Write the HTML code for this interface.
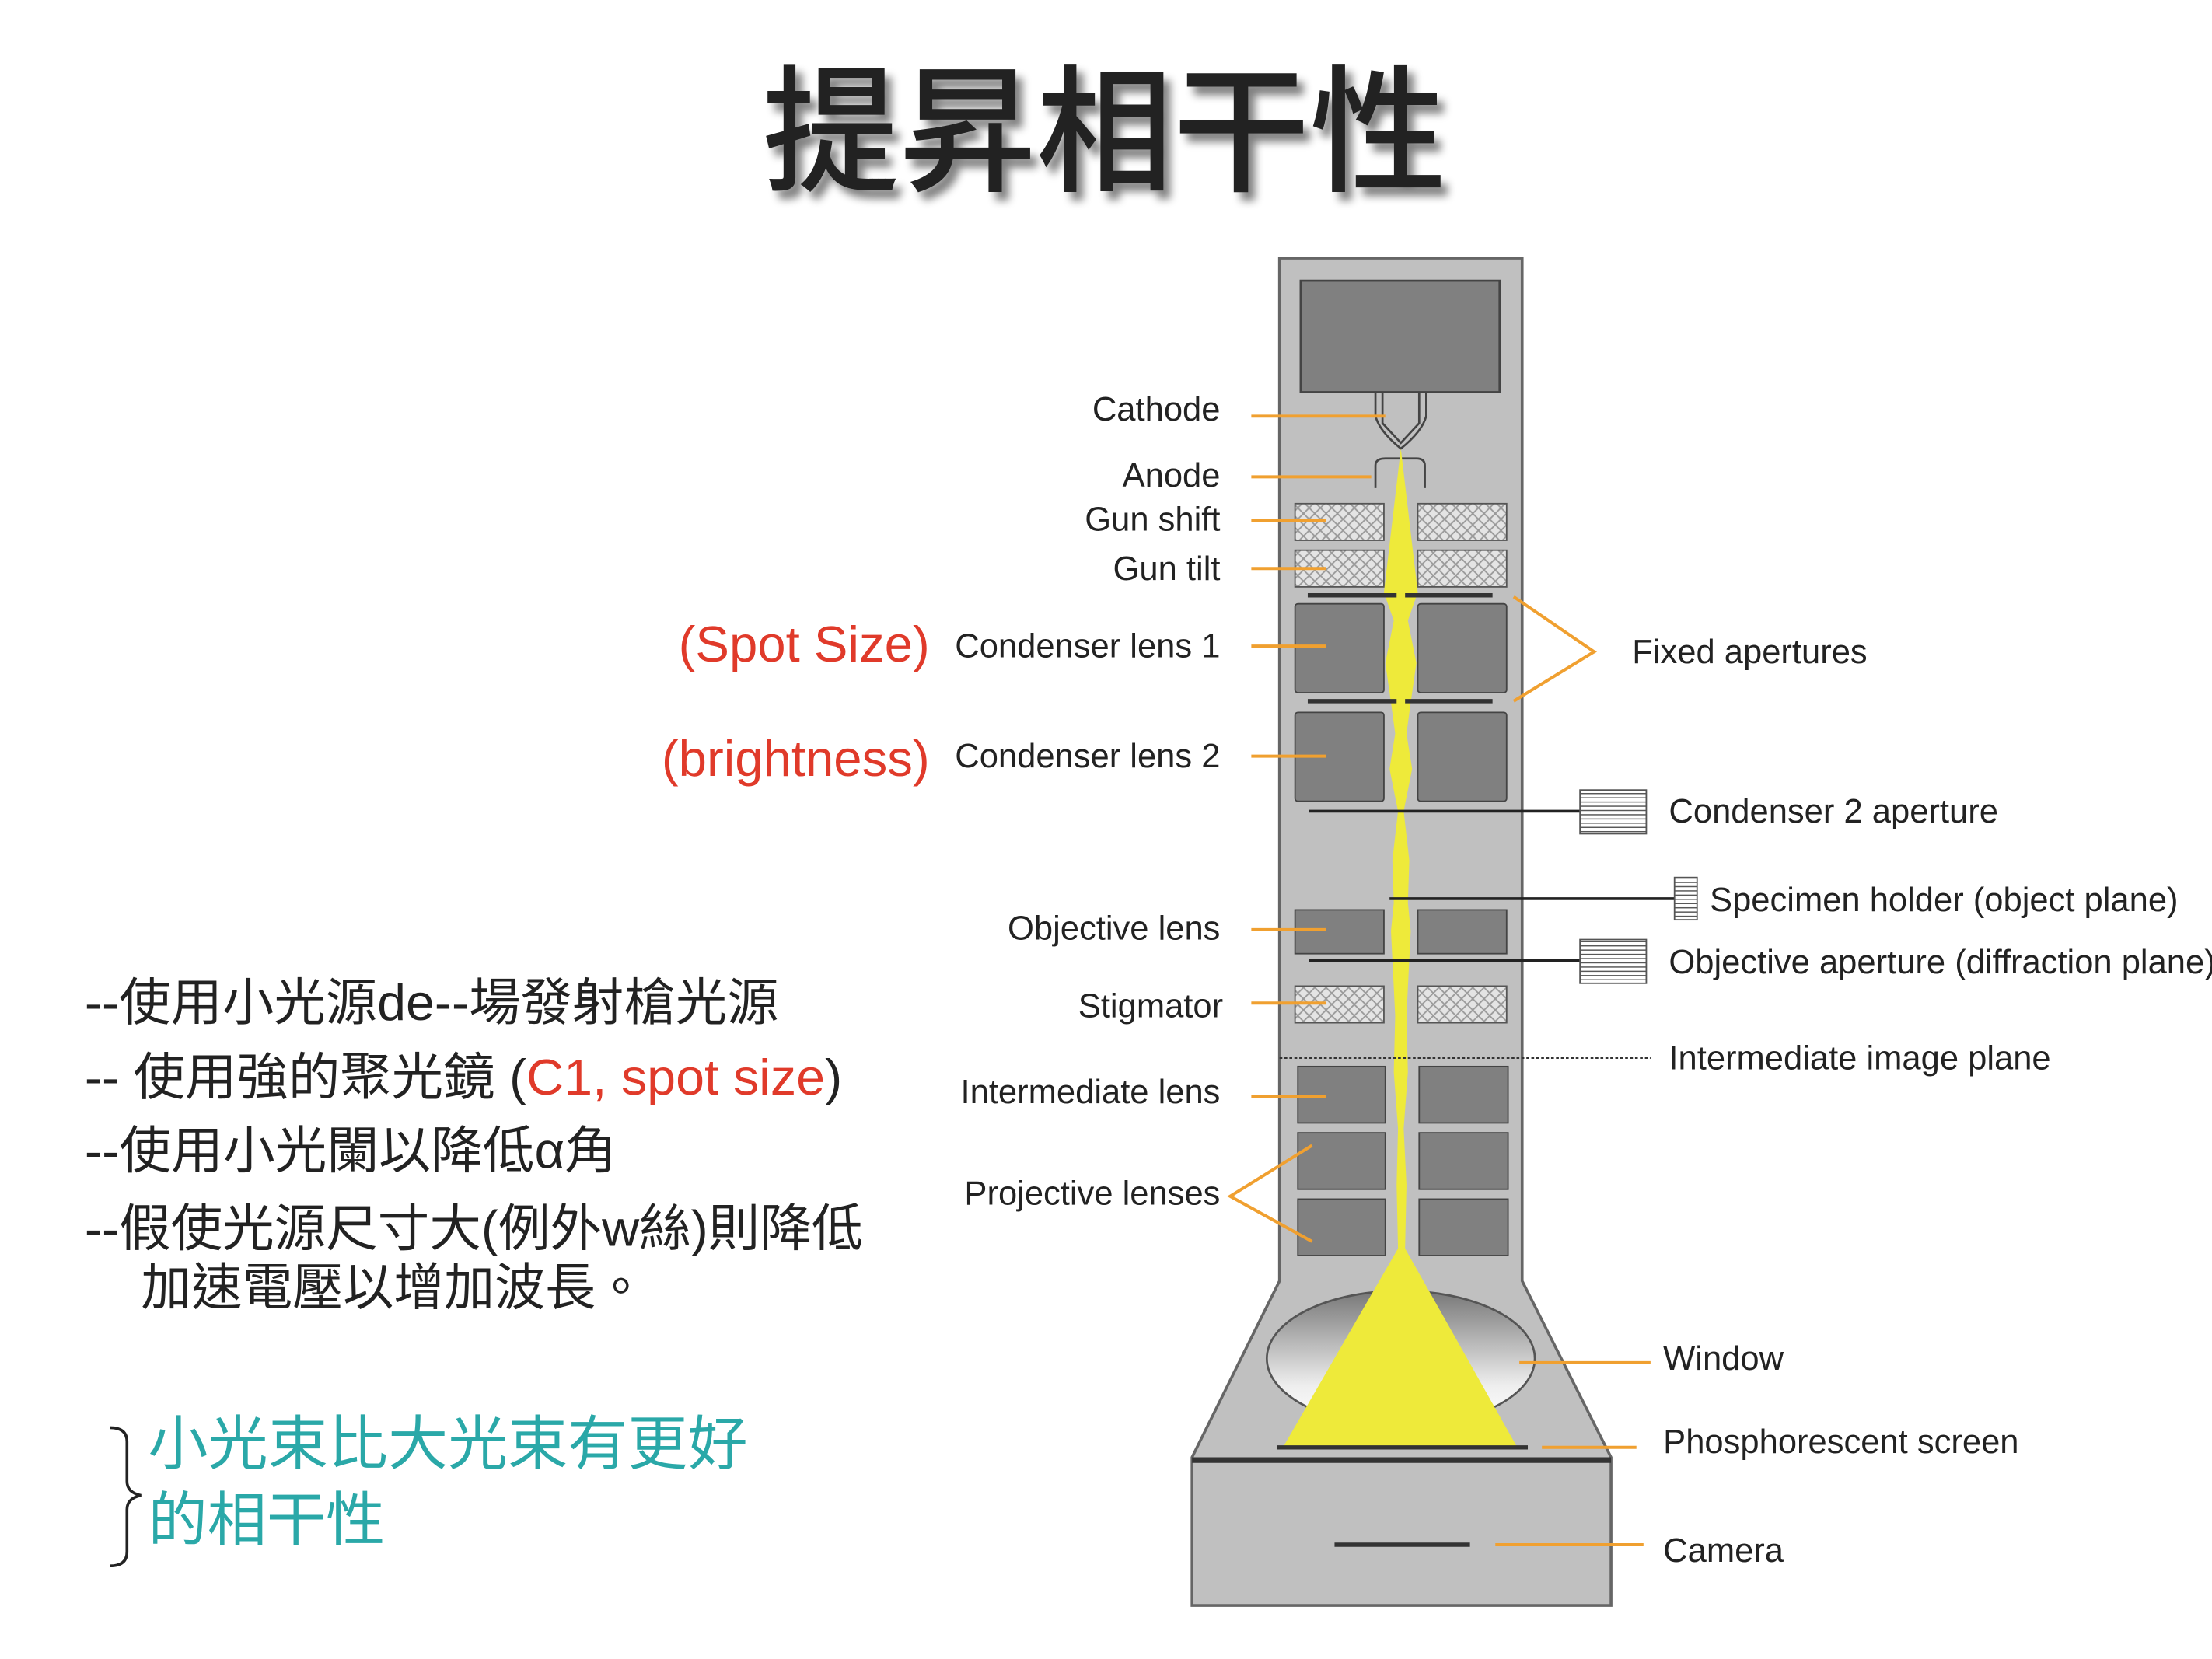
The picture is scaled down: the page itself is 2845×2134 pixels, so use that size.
<!DOCTYPE html>
<html><head><meta charset="utf-8"><style>
html,body{margin:0;padding:0;background:#fff}
svg{display:block}
text{font-family:"Liberation Sans","Noto Sans CJK TC",sans-serif}
</style></head><body>
<svg width="2845" height="2134" viewBox="0 0 1568 1176" preserveAspectRatio="none" xmlns="http://www.w3.org/2000/svg">
<defs>
<pattern id="hx" width="8" height="8" patternUnits="userSpaceOnUse">
<rect width="8" height="8" fill="#e4e4e4"/>
<path d="M0 0L8 8M8 0L0 8" stroke="#9a9a9a" stroke-width="1"/>
</pattern>
<pattern id="hl" width="4" height="3" patternUnits="userSpaceOnUse">
<rect width="4" height="3" fill="#fff"/>
<path d="M0 1.5H4" stroke="#555" stroke-width="0.8"/>
</pattern>
<linearGradient id="wg" x1="0" y1="0" x2="0" y2="1">
<stop offset="0" stop-color="#777"/><stop offset="0.7" stop-color="#eee"/><stop offset="1" stop-color="#fff"/>
</linearGradient>
<filter id="sh" x="-10%" y="-20%" width="120%" height="150%">
<feGaussianBlur in="SourceAlpha" stdDeviation="3"/><feOffset dx="5" dy="6"/>
<feComponentTransfer><feFuncA type="linear" slope="0.5"/></feComponentTransfer>
<feMerge><feMergeNode/><feMergeNode in="SourceGraphic"/></feMerge>
</filter>
</defs>

<!-- Title -->
<text x="783" y="128" text-anchor="middle" font-size="98" font-weight="500" fill="#222" filter="url(#sh)" textLength="485" lengthAdjust="spacingAndGlyphs" style="font-family:'Noto Sans CJK TC',sans-serif">提昇相干性</text>

<!-- Column -->
<path d="M907 183H1079V908L1142 1033V1138H845V1033L907 908Z" fill="#c0c0c0" stroke="#666" stroke-width="2"/>
<line x1="845" y1="1035" x2="1142" y2="1035" stroke="#333" stroke-width="4"/>
<rect x="922" y="199" width="141" height="79" fill="#808080" stroke="#444" stroke-width="1.5"/>
<path d="M980 278V300L993 314L1006 300V278" fill="none" stroke="#444" stroke-width="1.5"/>
<path d="M975 278V295Q978 306 993 318Q1008 306 1011 295V278" fill="none" stroke="#444" stroke-width="1.5"/>
<path d="M975 346V330Q975 325 982 325H1004Q1010 325 1010 330V346" fill="none" stroke="#444" stroke-width="1.5"/>

<rect x="918" y="357" width="63" height="26" fill="url(#hx)" stroke="#555"/>
<rect x="1005" y="357" width="63" height="26" fill="url(#hx)" stroke="#555"/>
<rect x="918" y="390" width="63" height="26" fill="url(#hx)" stroke="#555"/>
<rect x="1005" y="390" width="63" height="26" fill="url(#hx)" stroke="#555"/>
<rect x="918" y="428" width="63" height="63" rx="2" fill="#808080" stroke="#444"/>
<rect x="1005" y="428" width="63" height="63" rx="2" fill="#808080" stroke="#444"/>
<rect x="918" y="505" width="63" height="63" rx="2" fill="#808080" stroke="#444"/>
<rect x="1005" y="505" width="63" height="63" rx="2" fill="#808080" stroke="#444"/>
<rect x="918" y="645" width="63" height="31" fill="#808080" stroke="#444"/>
<rect x="1005" y="645" width="63" height="31" fill="#808080" stroke="#444"/>
<rect x="918" y="699" width="63" height="26" fill="url(#hx)" stroke="#555"/>
<rect x="1005" y="699" width="63" height="26" fill="url(#hx)" stroke="#555"/>
<rect x="920" y="756" width="62" height="40" fill="#808080" stroke="#444"/>
<rect x="1006" y="756" width="63" height="40" fill="#808080" stroke="#444"/>
<rect x="920" y="803" width="62" height="40" fill="#808080" stroke="#444"/>
<rect x="1006" y="803" width="63" height="40" fill="#808080" stroke="#444"/>
<rect x="920" y="850" width="62" height="40" fill="#808080" stroke="#444"/>
<rect x="1006" y="850" width="63" height="40" fill="#808080" stroke="#444"/>

<ellipse cx="993" cy="963" rx="95" ry="48" fill="url(#wg)" stroke="#555" stroke-width="1.5"/>

<path d="M993 318L1005 420L998 440L1004 470L1000 498L997 520L1001 545L995 575L999 610L998 640L1000 660L997 720L998 760L995 800L997 840L996 885L1075 1025H910L991 885L990 840L991 800L988 760L989 720L986 660L988 640L987 610L991 575L985 545L989 520L986 498L982 470L988 440L981 420Z" fill="#eeea3a"/>

<path d="M927 422H990M996 422H1058M927 497H990M996 497H1058" stroke="#333" stroke-width="3"/>
<line x1="905" y1="1026" x2="1083" y2="1026" stroke="#333" stroke-width="3"/>
<line x1="946" y1="1095" x2="1042" y2="1095" stroke="#333" stroke-width="3"/>
<line x1="928" y1="575" x2="1120" y2="575" stroke="#222" stroke-width="2"/>
<rect x="1120" y="560" width="47" height="31" fill="url(#hl)" stroke="#555"/>
<line x1="985" y1="637" x2="1187" y2="637" stroke="#222" stroke-width="2"/>
<rect x="1187" y="622" width="16" height="30" fill="url(#hl)" stroke="#555"/>
<line x1="928" y1="681" x2="1120" y2="681" stroke="#222" stroke-width="2"/>
<rect x="1120" y="666" width="47" height="31" fill="url(#hl)" stroke="#555"/>
<line x1="907" y1="750" x2="1170" y2="750" stroke="#333" stroke-width="1.2" stroke-dasharray="2 1.5"/>

<g stroke="#f0a030" stroke-width="2.2" fill="none">
<path d="M887 295H982"/>
<path d="M887 338H972"/>
<path d="M887 369H940"/>
<path d="M887 403H940"/>
<path d="M887 458H940"/>
<path d="M887 536H940"/>
<path d="M887 659H940"/>
<path d="M887 711H940"/>
<path d="M887 777H940"/>
<path d="M930 812L872 848L930 880"/>
<path d="M1073 423L1130 462L1073 497"/>
<path d="M1077 966H1170"/>
<path d="M1093 1026H1160"/>
<path d="M1060 1095H1165"/>
</g>

<g font-size="24" fill="#222" text-anchor="end">
<text x="865" y="298">Cathode</text>
<text x="865" y="345">Anode</text>
<text x="865" y="376">Gun shift</text>
<text x="865" y="411">Gun tilt</text>
<text x="865" y="466">Condenser lens 1</text>
<text x="865" y="544">Condenser lens 2</text>
<text x="865" y="666">Objective lens</text>
<text x="867" y="721">Stigmator</text>
<text x="865" y="782">Intermediate lens</text>
<text x="865" y="854">Projective lenses</text>
</g>
<g font-size="24" fill="#222">
<text x="1157" y="470">Fixed apertures</text>
<text x="1183" y="583">Condenser 2 aperture</text>
<text x="1212" y="646">Specimen holder (object plane)</text>
<text x="1183" y="690">Objective aperture (diffraction plane)</text>
<text x="1183" y="758">Intermediate image plane</text>
<text x="1179" y="971">Window</text>
<text x="1179" y="1030">Phosphorescent screen</text>
<text x="1179" y="1107">Camera</text>
</g>
<g font-size="36" fill="#e03a2a" text-anchor="end">
<text x="659" y="469">(Spot Size)</text>
<text x="659" y="550">(brightness)</text>
</g>

<g font-size="36" fill="#222">
<text x="60" y="723" textLength="492" lengthAdjust="spacingAndGlyphs">--使用小光源de--場發射槍光源</text>
<text x="60" y="776" textLength="537" lengthAdjust="spacingAndGlyphs">-- 使用強的聚光鏡 (<tspan fill="#e03a2a">C1, spot size</tspan>)</text>
<text x="60" y="828" textLength="377" lengthAdjust="spacingAndGlyphs">--使用小光闌以降低α角</text>
<text x="60" y="883" textLength="552" lengthAdjust="spacingAndGlyphs">--假使光源尺寸大(例外w絲)則降低</text>
<text x="100" y="925" textLength="358" lengthAdjust="spacingAndGlyphs">加速電壓以增加波長。</text>
</g>
<g font-size="42" fill="#2aa8a8">
<text x="105" y="1038" textLength="425" lengthAdjust="spacingAndGlyphs">小光束比大光束有更好</text>
<text x="105" y="1092" textLength="168" lengthAdjust="spacingAndGlyphs">的相干性</text>
</g>
<path d="M78 1012Q90 1012 90 1022V1050Q90 1058 100 1060Q90 1062 90 1070V1100Q90 1110 78 1110" fill="none" stroke="#222" stroke-width="2"/>
</svg>
</body></html>
